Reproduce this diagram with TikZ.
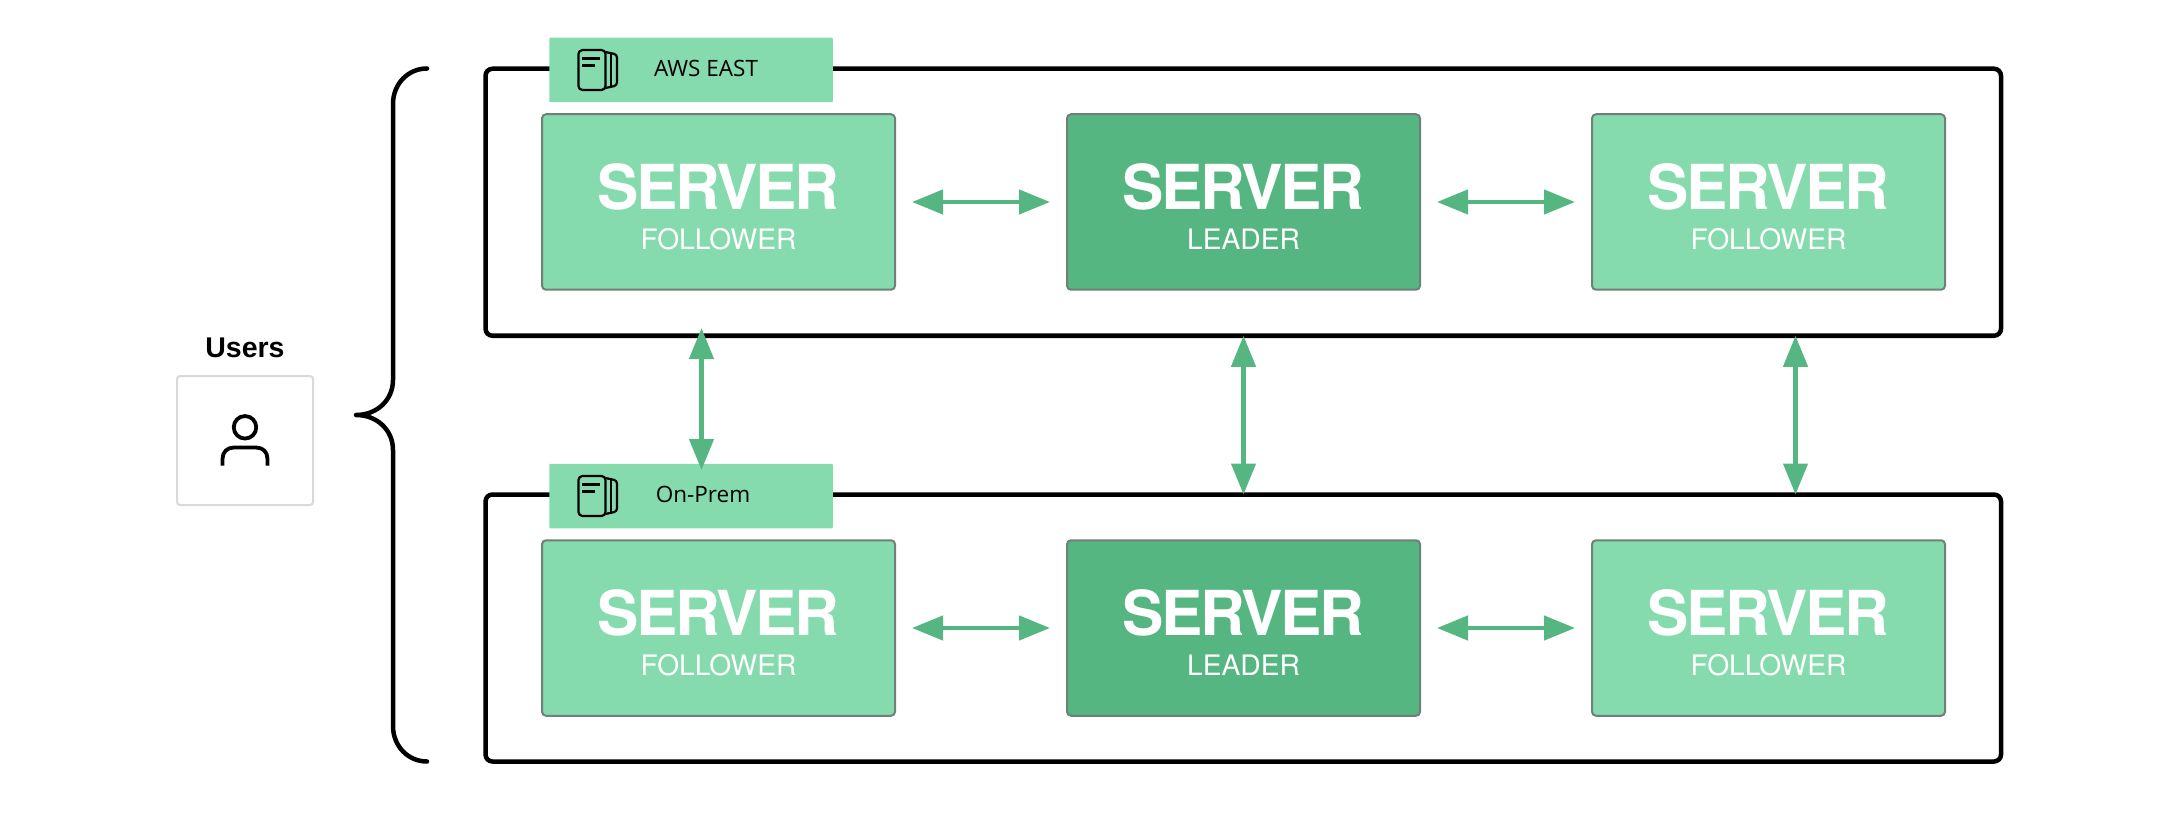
\documentclass[tikz,border=0pt]{standalone}
\usepackage{fontspec}
\setmainfont{Liberation Sans}
\newfontfamily\tagfont{Open Sans}
\newfontfamily\titlefont[LetterSpace=-3.8]{TeX Gyre Heros}
\newfontfamily\rolefont{TeX Gyre Heros}
\usetikzlibrary{arrows.meta}
\definecolor{lightgreen}{HTML}{85DBAD}
\definecolor{darkgreen}{HTML}{55B682}
\definecolor{servedge}{HTML}{6F8078}
\newcommand{\bookicon}[2]{%
  \begin{scope}[shift={(#1,#2)},line width=2.2pt,line join=round,draw=black]
    \draw[rounded corners=4pt] (0,0) rectangle (27,40);
    \draw (3.5,8.5) -- (21,8.5);
    \draw (3.5,15.5) -- (16,15.5);
    \draw[rounded corners=3pt] (27,2) -- (38.5,4.5) -- (38.5,35.5) -- (27,38);
    \draw (32.5,3.5) -- (32.5,36.5);
  \end{scope}}
\tikzset{
  x=1pt,y=-1pt,
  zonebox/.style={draw=black,line width=4.5pt,rounded corners=7pt,fill=white,outer sep=0pt},
  zonetag/.style={fill=lightgreen,rounded corners=1pt,inner sep=0pt,minimum width=283.5pt,minimum height=64.5pt},
  follower/.style={draw=servedge,line width=2pt,rounded corners=4pt,fill=lightgreen,inner sep=0pt,outer sep=0pt,minimum width=353pt,minimum height=175.5pt},
  leader/.style={follower,fill=darkgreen},
  servtitle/.style={text=white,font=\titlefont\fontsize{62}{62}\selectfont\bfseries,inner sep=0pt},
  servrole/.style={text=white,font=\rolefont\fontsize{28.2}{28.2}\selectfont,inner sep=0pt},
  tagtext/.style={text=black,font=\tagfont\fontsize{22.5}{22.5}\selectfont,inner sep=0pt},
  link/.style={draw=darkgreen,line width=4.4pt,{Triangle[length=31pt,width=24pt,fill=darkgreen]}-{Triangle[length=31pt,width=24pt,fill=darkgreen]}},
  hlink/.style={link,shorten <=17pt,shorten >=17pt},
  blackline/.style={draw=black,line width=4.5pt,line cap=round,line join=round},
}
\begin{document}
\begin{tikzpicture}
\useasboundingbox (0,0) rectangle (2166,826);
% outer zones
\node[zonebox,inner sep=0pt,minimum width=1515.5pt,minimum height=267pt] (zone1) at (1243.25,202.25) {};
\node[zonebox,inner sep=0pt,minimum width=1515.5pt,minimum height=267pt] (zone2) at (1243.25,628) {};
% tags
\node[zonetag] (tag1) at (691,70) {};
\node[zonetag] (tag2) at (691,496) {};
\bookicon{578.5}{50}
\bookicon{578.5}{476}
\node[tagtext] (tag1t) at (706,68.5) {AWS EAST};
\node[tagtext] (tag2t) at (703,494.5) {On-Prem};
% servers row 1
\node[follower] (s11) at (718.5,202) {};
\node[leader]   (s12) at (1243.5,202) {};
\node[follower] (s13) at (1768.5,202) {};
% servers row 2
\node[follower] (s21) at (718.5,628) {};
\node[leader]   (s22) at (1243.5,628) {};
\node[follower] (s23) at (1768.5,628) {};
% labels
\foreach \nm/\cx/\cy/\role in {a/718.5/202/FOLLOWER,b/1243.5/202/LEADER,c/1768.5/202/FOLLOWER,d/718.5/628/FOLLOWER,e/1243.5/628/LEADER,f/1768.5/628/FOLLOWER}{
  \node[servtitle] (title\nm) at (\cx,\cy-15) {SERVER};
  \node[servrole] (role\nm) at (\cx,\cy+37.5) {\role};
}
% horizontal links
\draw[hlink] (s11) -- (s12);
\draw[hlink] (s12) -- (s13);
\draw[hlink] (s21) -- (s22);
\draw[hlink] (s22) -- (s23);
% vertical links
\coordinate (v1a) at (701.5,328);
\coordinate (v1b) at (701.5,470);
\coordinate (v3a) at (1795.5,335.75);
\coordinate (v3b) at (1795.5,494.5);
\draw[link] (v1a) -- (v1b);
\draw[link] (s12.center |- zone1.south) -- (s12.center |- zone2.north);
\draw[link] (v3a) -- (v3b);
% brace
\coordinate (bt) at (427,68.5);
\coordinate (bm) at (356,415);
\coordinate (bb) at (427,761.5);
\draw[blackline] (bt) .. controls (408,68.5) and (393,84) .. (393,104) -- (393,380)
  .. controls (393,400) and (377,415) .. (bm)
  .. controls (377,415) and (393,430) .. (393,450) -- (393,726)
  .. controls (393,746) and (408,761.5) .. (bb);
% users
\node[text=black,font=\fontsize{28.5}{28.5}\selectfont\bfseries,inner sep=0pt] (ulabel) at (245,348) {Users};
\node[draw=black!15,line width=2pt,rounded corners=3pt,fill=white,inner sep=0pt,minimum width=136pt,minimum height=129pt] (ubox) at (245,440.5) {};
\node[draw=black,line width=3.8pt,circle,inner sep=0pt,minimum size=22.5pt] (uhead) at (245,427.3) {};
\coordinate (us1) at (222.5,465.5);
\coordinate (us2) at (267.5,465.5);
\draw[line width=3.8pt,line join=round] (us1) -- (222.5,459) .. controls (222.5,452) and (227,447.5) .. (234,447.5) -- (256,447.5) .. controls (263,447.5) and (267.5,452) .. (267.5,459) -- (us2);
\end{tikzpicture}
\end{document}
